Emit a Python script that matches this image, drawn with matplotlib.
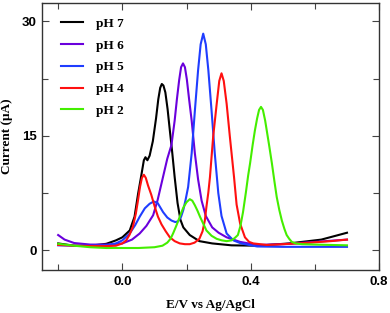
import matplotlib
matplotlib.use("Agg")
import matplotlib.pyplot as plt
from matplotlib.ticker import MultipleLocator

# pH 7
x_ph7 = [-0.20, -0.15, -0.10, -0.05, -0.02, 0.00, 0.023, 0.038, 0.049, 0.059, 0.067, 0.072,
         0.078, 0.085, 0.095, 0.105, 0.112, 0.118, 0.123, 0.128, 0.134, 0.141, 0.148, 0.155,
         0.163, 0.172, 0.181, 0.19, 0.21, 0.24, 0.28, 0.34, 0.42, 0.52, 0.62, 0.70]
y_ph7 = [0.9, 0.6, 0.6, 0.85, 1.3, 1.7, 2.6, 4.4, 7.4, 9.8, 11.8, 12.2,
         11.8, 12.4, 14.3, 17.3, 19.8, 21.3, 21.8, 21.6, 20.7, 18.5, 15.7, 13.0,
         9.6, 6.2, 4.0, 3.0, 2.0, 1.2, 0.9, 0.65, 0.6, 0.9, 1.4, 2.3]

# pH 6
x_ph6 = [-0.20, -0.18, -0.15, -0.10, -0.05, 0.00, 0.03, 0.054, 0.075, 0.096, 0.11, 0.125,
         0.14, 0.153, 0.163, 0.17, 0.177, 0.183, 0.189, 0.195, 0.201, 0.208, 0.216, 0.226,
         0.236, 0.247, 0.26, 0.28, 0.30, 0.325, 0.367, 0.42, 0.5, 0.6, 0.7]
y_ph6 = [2.0, 1.4, 0.95, 0.75, 0.75, 0.9, 1.4, 2.2, 3.2, 4.6, 6.6, 9.3,
         12.0, 13.8, 17.0, 19.8, 22.3, 24.0, 24.5, 24.0, 22.4, 19.8, 17.0, 12.7,
         9.3, 6.5, 4.5, 3.0, 2.3, 1.7, 1.1, 0.7, 0.8, 1.1, 1.4]

# pH 5
x_ph5 = [-0.20, -0.15, -0.10, -0.05, -0.02, 0.00, 0.023, 0.04, 0.054, 0.07, 0.085, 0.098,
         0.11, 0.127, 0.14, 0.153, 0.165, 0.174, 0.183, 0.19, 0.197, 0.205, 0.216, 0.226,
         0.236, 0.244, 0.252, 0.26, 0.268, 0.278, 0.288, 0.299, 0.309, 0.325, 0.346, 0.37,
         0.42, 0.5, 0.6, 0.7]
y_ph5 = [0.65, 0.6, 0.6, 0.65, 0.9, 1.3, 2.2, 3.3, 4.4, 5.5, 6.1, 6.4,
         6.2, 5.0, 4.3, 3.9, 3.7, 3.8, 4.4, 5.3, 6.6, 8.3, 12.7, 18.3,
         23.6, 27.0, 28.4, 27.0, 23.6, 18.3, 12.7, 7.5, 4.5, 2.2, 1.3, 0.9,
         0.5, 0.45, 0.45, 0.45]

# pH 4
x_ph4 = [-0.20, -0.15, -0.10, -0.05, -0.02, 0.00, 0.012, 0.022, 0.033, 0.042, 0.049, 0.055,
         0.061, 0.067, 0.073, 0.08, 0.09, 0.101, 0.111, 0.122, 0.135, 0.148, 0.163, 0.179,
         0.195, 0.21, 0.225, 0.24, 0.25, 0.257, 0.262, 0.268, 0.273, 0.283, 0.294, 0.302,
         0.309, 0.316, 0.325, 0.335, 0.348, 0.356, 0.367, 0.382, 0.395, 0.408, 0.45, 0.55,
         0.65, 0.70]
y_ph4 = [0.7, 0.6, 0.55, 0.55, 0.6, 0.9, 1.3, 2.0, 3.1, 4.8, 6.6, 8.3,
         9.5, 9.9, 9.5, 8.5, 7.3, 5.7, 4.4, 3.4, 2.5, 1.7, 1.2, 0.9,
         0.8, 0.8, 1.0, 1.5, 2.5, 3.9, 5.7, 7.6, 9.6, 14.9, 19.2, 22.2,
         23.2, 22.2, 19.2, 14.9, 9.6, 6.0, 3.5, 1.7, 1.1, 0.9, 0.7, 0.9,
         1.2, 1.4]

# pH 2
x_ph2 = [-0.20, -0.15, -0.10, -0.05, 0.00, 0.05, 0.10, 0.125, 0.14, 0.15, 0.158, 0.168,
         0.179, 0.19, 0.2, 0.21, 0.218, 0.226, 0.234, 0.242, 0.252, 0.262, 0.278, 0.294,
         0.31, 0.325, 0.34, 0.35, 0.36, 0.368, 0.376, 0.385, 0.392, 0.398, 0.406, 0.413,
         0.42, 0.426, 0.432, 0.438, 0.445, 0.45, 0.458, 0.466, 0.474, 0.481, 0.489, 0.497,
         0.505, 0.512, 0.52, 0.528, 0.54, 0.56, 0.6, 0.65, 0.7]
y_ph2 = [0.85, 0.6, 0.4, 0.3, 0.3, 0.3, 0.4, 0.6, 1.0, 1.5, 2.2, 3.2,
         4.4, 5.6, 6.3, 6.7, 6.5, 5.9, 5.2, 4.4, 3.5, 2.6, 1.9, 1.5,
         1.3, 1.2, 1.3, 1.6, 2.0, 3.2, 5.0, 7.6, 9.8, 11.4, 13.8, 15.7,
         17.3, 18.4, 18.8, 18.4, 17.0, 15.7, 13.6, 11.4, 9.0, 7.0, 5.3, 3.9,
         2.8, 2.0, 1.5, 1.1, 0.9, 0.8, 0.75, 0.7, 0.65]

series = [
    ("pH 7", x_ph7, y_ph7, "#000000"),
    ("pH 6", x_ph6, y_ph6, "#6a00dc"),
    ("pH 5", x_ph5, y_ph5, "#1f3dff"),
    ("pH 4", x_ph4, y_ph4, "#ff1010"),
    ("pH 2", x_ph2, y_ph2, "#44ee00"),
]

fig = plt.figure(figsize=(3.9, 3.13), dpi=100)
ax = fig.add_axes([0.108, 0.137, 0.864, 0.853])

for label, xs, ys, col in series:
    ax.plot(xs, ys, color=col, lw=1.5, label=label)

ax.set_xlim(-0.25, 0.8)
ax.set_ylim(-2.6, 32.4)
ax.xaxis.set_major_locator(MultipleLocator(0.4))
ax.xaxis.set_minor_locator(MultipleLocator(0.2))
ax.yaxis.set_major_locator(MultipleLocator(15))
ax.yaxis.set_minor_locator(MultipleLocator(7.5))
ax.set_xticks([0.0, 0.4, 0.8])
ax.set_xticklabels(["0.0", "0.4", "0.8"])

ax.tick_params(which="both", direction="in", top=True, right=True, color="#444444", width=0.8)
ax.tick_params(which="major", length=5, pad=4)
ax.tick_params(which="minor", length=4)
for lab in ax.get_xticklabels() + ax.get_yticklabels():
    lab.set_family("Liberation Sans")
    lab.set_weight("bold")
    lab.set_fontsize(9.5)
for sp in ax.spines.values():
    sp.set_color("#333333")
    sp.set_linewidth(1.0)

ax.set_xlabel("E/V vs Ag/AgCl", family="Liberation Serif", weight="bold", fontsize=9.5, labelpad=8)
ax.set_ylabel("Current (μA)", family="Liberation Serif", weight="bold", fontsize=9.5, labelpad=6)

leg = ax.legend(loc="upper left", bbox_to_anchor=(0.022, 0.99), frameon=False,
                prop={"family": "Liberation Serif", "weight": "bold", "size": 9.5},
                handlelength=1.6, handletextpad=1.05, labelspacing=0.72)

fig.savefig("out.png", dpi=100)
